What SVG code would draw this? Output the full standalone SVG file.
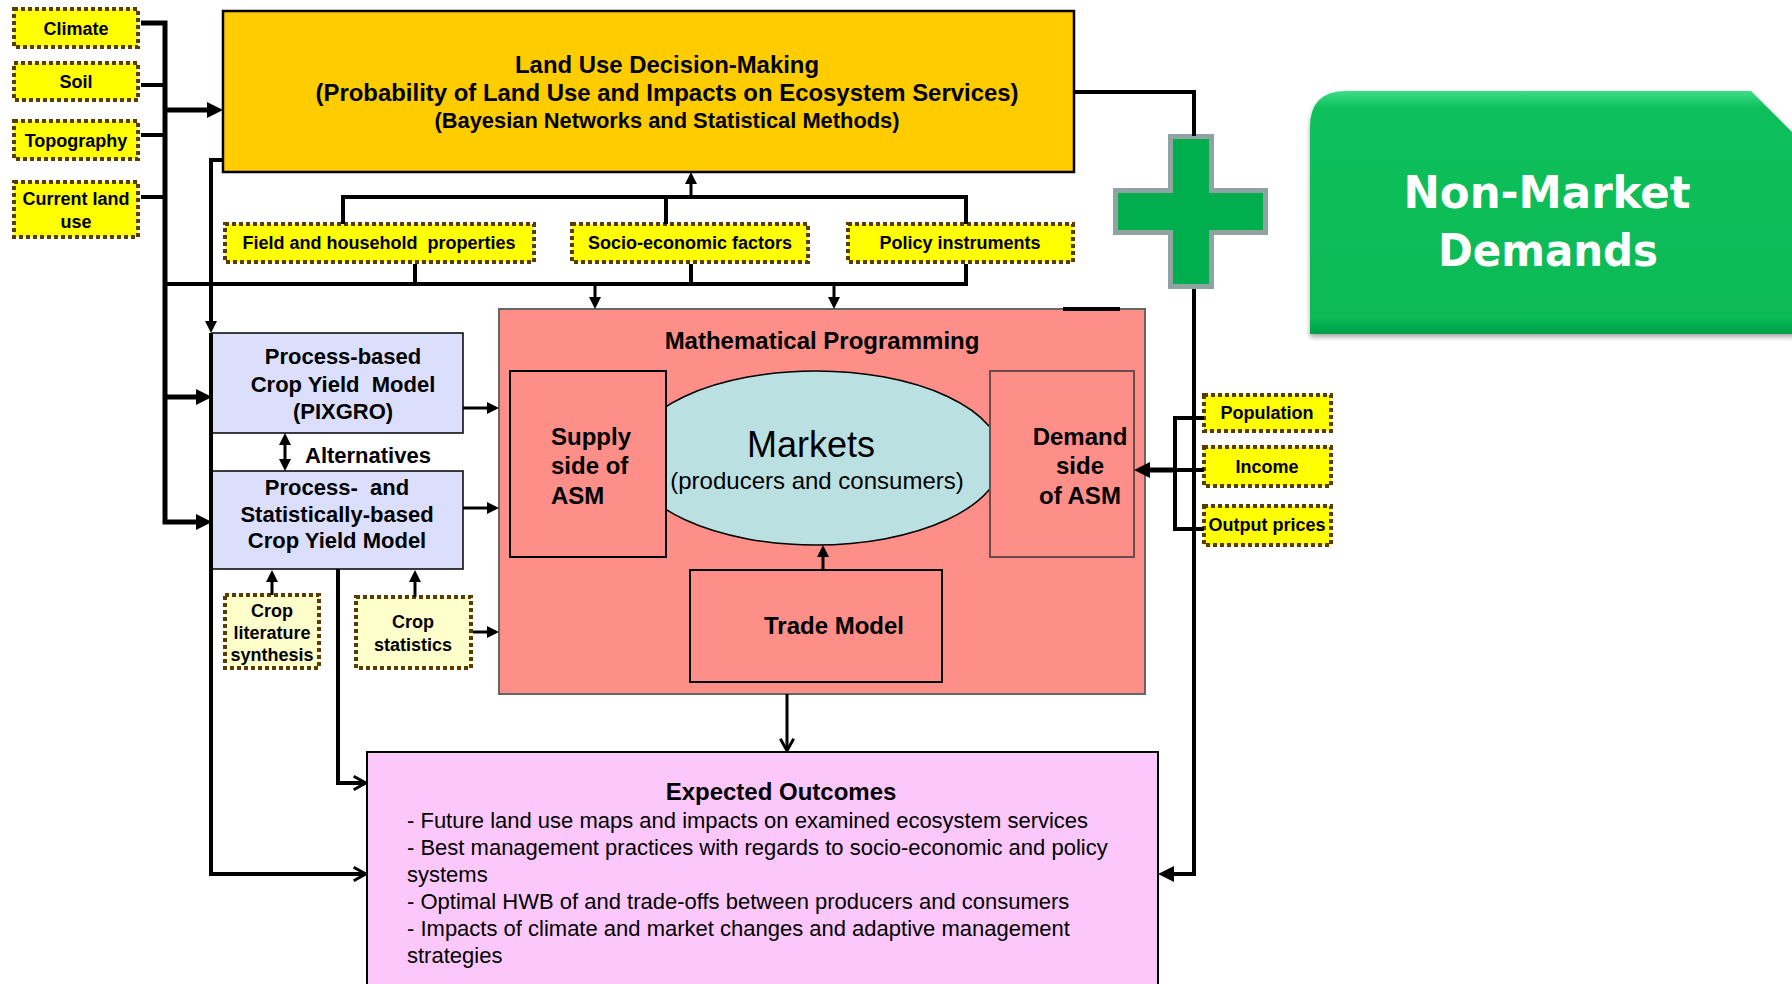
<svg xmlns="http://www.w3.org/2000/svg" width="1792" height="984" viewBox="0 0 1792 984">
<defs>
<style>
text{font-family:"Liberation Sans",Arial,sans-serif;fill:#000}
.b{font-weight:bold}
.m{text-anchor:middle}
.dot{fill:#FFFF00;stroke:#5A3C00;stroke-width:4;stroke-dasharray:4 3}
.dotl{fill:#FFFFCC;stroke:#5A3C00;stroke-width:4;stroke-dasharray:4 3}
.c{fill:none;stroke:#000;stroke-linejoin:miter}
.w5{stroke-width:5}
.w4{stroke-width:4}
.w3{stroke-width:3}
.sal{fill:#FD8F88}
</style>
<marker id="a" viewBox="0 0 10 10" refX="5" refY="5" markerWidth="12" markerHeight="12" markerUnits="userSpaceOnUse" orient="auto-start-reverse"><path d="M0,0 L10,5 L0,10 z" fill="#000"/></marker>
<marker id="aL" viewBox="0 0 10 10" refX="5" refY="5" markerWidth="16" markerHeight="16" markerUnits="userSpaceOnUse" orient="auto"><path d="M0,0 L10,5 L0,10 z" fill="#000"/></marker>
<marker id="chev" viewBox="0 0 12 12" refX="8" refY="6" markerWidth="16" markerHeight="16" markerUnits="userSpaceOnUse" orient="auto"><path d="M1,1 L10,6 L1,11" fill="none" stroke="#000" stroke-width="2.2"/></marker>
<linearGradient id="gg" x1="0" y1="0" x2="0" y2="1">
<stop offset="0" stop-color="#3FDC8A"/>
<stop offset="0.07" stop-color="#0BC05B"/>
<stop offset="0.93" stop-color="#07BA56"/>
<stop offset="1" stop-color="#05A049"/>
</linearGradient>
<filter id="sh" x="-5%" y="-5%" width="110%" height="115%"><feDropShadow dx="0" dy="3" stdDeviation="2.5" flood-color="#000" flood-opacity="0.35"/></filter>
</defs>

<g id="climate"><rect class="dot" x="14" y="9" width="124" height="38"/><text class="b m" x="76" y="35" font-size="18">Climate</text></g>
<g id="soil"><rect class="dot" x="14" y="63" width="124" height="37"/><text class="b m" x="76" y="88" font-size="18">Soil</text></g>
<g id="topography"><rect class="dot" x="14" y="121" width="124" height="38"/><text class="b m" x="76" y="147" font-size="18">Topography</text></g>
<g id="current-land-use"><rect class="dot" x="14" y="182" width="124" height="55"/><text class="b m" x="76" y="205" font-size="18">Current land</text><text class="b m" x="76" y="228" font-size="18">use</text></g>

<g id="ludm"><rect x="223" y="11" width="851" height="161" fill="#FFCC00" stroke="#000" stroke-width="2.5"/>
<text class="b m" x="667" y="73" font-size="24" textLength="304" lengthAdjust="spacingAndGlyphs">Land Use Decision-Making</text>
<text class="b m" x="667" y="101" font-size="24" textLength="703" lengthAdjust="spacingAndGlyphs">(Probability of Land Use and Impacts on Ecosystem Services)</text>
<text class="b m" x="667" y="128" font-size="22" textLength="465" lengthAdjust="spacingAndGlyphs">(Bayesian Networks and Statistical Methods)</text></g>

<g id="field-household"><rect class="dot" x="225" y="224" width="309" height="38"/><text class="b m" x="379" y="249" font-size="18" xml:space="preserve">Field and household  properties</text></g>
<g id="socio-economic"><rect class="dot" x="572" y="224" width="236" height="38"/><text class="b m" x="690" y="249" font-size="18">Socio-economic factors</text></g>
<g id="policy"><rect class="dot" x="848" y="224" width="225" height="38"/><text class="b m" x="960" y="249" font-size="18">Policy instruments</text></g>

<g id="pixgro"><rect x="212" y="333" width="251" height="100" fill="#DCDFFC" stroke="#000" stroke-width="1.5"/>
<text class="b m" x="343" y="364" font-size="22">Process-based</text>
<text class="b m" x="343" y="392" font-size="22" xml:space="preserve">Crop Yield  Model</text>
<text class="b m" x="343" y="419" font-size="22">(PIXGRO)</text></g>
<g id="alternatives"><text class="b" x="305" y="463" font-size="22">Alternatives</text></g>
<g id="process-stat"><rect x="212" y="471" width="251" height="98" fill="#DCDFFC" stroke="#000" stroke-width="1.5"/>
<text class="b m" x="337" y="495" font-size="22" xml:space="preserve">Process-  and</text>
<text class="b m" x="337" y="522" font-size="22">Statistically-based</text>
<text class="b m" x="337" y="548" font-size="22">Crop Yield Model</text></g>

<g id="crop-literature"><rect class="dotl" x="225" y="595" width="94" height="73"/>
<text class="b m" x="272" y="617" font-size="18">Crop</text><text class="b m" x="272" y="639" font-size="18">literature</text><text class="b m" x="272" y="661" font-size="18">synthesis</text></g>
<g id="crop-statistics"><rect class="dotl" x="356" y="597" width="115" height="71"/>
<text class="b m" x="413" y="628" font-size="18">Crop</text><text class="b m" x="413" y="651" font-size="18">statistics</text></g>

<g id="math-programming"><rect class="sal" x="499" y="309" width="646" height="385" stroke="#666" stroke-width="2"/>
<text class="b m" x="822" y="349" font-size="24">Mathematical Programming</text></g>
<g id="markets"><ellipse cx="816" cy="458" rx="186" ry="87" fill="#BBE0E2" stroke="#000" stroke-width="1.5"/>
<text class="m" x="811" y="457" font-size="36">Markets</text>
<text class="m" x="817" y="489" font-size="24">(producers and consumers)</text></g>
<g id="supply"><rect class="sal" x="510" y="371" width="156" height="186" stroke="#000" stroke-width="2"/>
<text class="b" x="551" y="445" font-size="24">Supply</text><text class="b" x="551" y="474" font-size="24">side of</text><text class="b" x="551" y="504" font-size="24">ASM</text></g>
<g id="demand"><rect class="sal" x="990" y="371" width="144" height="186" stroke="#6B4B4B" stroke-width="2"/>
<text class="b m" x="1080" y="445" font-size="24">Demand</text><text class="b m" x="1080" y="474" font-size="24">side</text><text class="b m" x="1080" y="504" font-size="24">of ASM</text></g>
<g id="trade-model"><rect class="sal" x="690" y="570" width="252" height="112" stroke="#000" stroke-width="2"/>
<text class="b m" x="834" y="634" font-size="24">Trade Model</text></g>

<g id="population"><rect class="dot" x="1204" y="395" width="127" height="36"/><text class="b m" x="1267" y="419" font-size="18">Population</text></g>
<g id="income"><rect class="dot" x="1204" y="447" width="127" height="39"/><text class="b m" x="1267" y="473" font-size="18">Income</text></g>
<g id="output-prices"><rect class="dot" x="1204" y="506" width="127" height="39"/><text class="b m" x="1267" y="531" font-size="18">Output prices</text></g>

<g id="expected-outcomes"><rect x="367" y="752" width="791" height="240" fill="#FCC8FC" stroke="#000" stroke-width="2"/>
<text class="b m" x="781" y="800" font-size="24">Expected Outcomes</text>
<text x="407" y="828" font-size="22">- Future land use maps and impacts on examined ecosystem services</text>
<text x="407" y="855" font-size="22">- Best management practices with regards to socio-economic and policy</text>
<text x="407" y="882" font-size="22">systems</text>
<text x="407" y="909" font-size="22">- Optimal HWB of and trade-offs between producers and consumers</text>
<text x="407" y="936" font-size="22">- Impacts of climate and market changes and adaptive management</text>
<text x="407" y="963" font-size="22">strategies</text></g>

<g id="plus"><polygon points="1170.5,136.5 1211.5,136.5 1211.5,190.5 1265.5,190.5 1265.5,232.5 1211.5,232.5 1211.5,286.5 1170.5,286.5 1170.5,232.5 1115.5,232.5 1115.5,190.5 1170.5,190.5" fill="#00AE4E" stroke="#8FA3A3" stroke-width="5"/></g>

<g id="non-market-demands"><path d="M1310,127 Q1310,91 1346,91 H1751 L1796,136 V334 H1310 Z" fill="url(#gg)" filter="url(#sh)"/>
<text class="b m" x="1547" y="208" font-size="44" style="font-family:'DejaVu Sans',sans-serif;fill:#fff" textLength="287" lengthAdjust="spacingAndGlyphs">Non-Market</text>
<text class="b m" x="1548" y="266" font-size="44" style="font-family:'DejaVu Sans',sans-serif;fill:#fff" textLength="220" lengthAdjust="spacingAndGlyphs">Demands</text></g>

<g id="connectors">
<path class="c w5" d="M141,23 H165 V522 H204" marker-end="url(#aL)"/>
<path class="c w5" d="M165,110 H215" marker-end="url(#aL)"/>
<path class="c w5" d="M165,397 H204" marker-end="url(#aL)"/>
<path class="c w4" d="M141,85 H165 M141,135 H165 M141,197 H165"/>
<path class="c w4" d="M165,284 H966 V264 M415,264 V284 M691,264 V284"/>
<path class="c w3" d="M595,284 V303" marker-end="url(#a)"/>
<path class="c w3" d="M834,284 V303" marker-end="url(#a)"/>
<path class="c w4" d="M343,224 V197 H966 V224 M666,224 V197"/>
<path class="c w3" d="M691,197 V178" marker-end="url(#a)"/>
<path class="c w4" d="M223,160 H211 V327" marker-end="url(#a)"/>
<path class="c w4" d="M211,333 V874 H363" marker-end="url(#chev)"/>
<path class="c w4" d="M338,569 V783 H363" marker-end="url(#chev)"/>
<path class="c w3" d="M787,694 V748" marker-end="url(#chev)"/>
<path class="c w3" d="M285,439 V465" marker-start="url(#a)" marker-end="url(#a)"/>
<path class="c w3" d="M463,408 H493" marker-end="url(#a)"/>
<path class="c w3" d="M463,508 H493" marker-end="url(#a)"/>
<path class="c w3" d="M473,632 H493" marker-end="url(#a)"/>
<path class="c w3" d="M272,595 V576" marker-end="url(#a)"/>
<path class="c w3" d="M415,597 V576" marker-end="url(#a)"/>
<path class="c w3" d="M823,570 V551" marker-end="url(#a)"/>
<path class="c w4" d="M1074,92 H1194 V136"/>
<path class="c w4" d="M1194,289 V874 H1166" marker-end="url(#aL)"/>
<path class="c w5" d="M1175,470 H1142" marker-end="url(#aL)"/>
<path class="c w4" d="M1204,418 H1175 V529 H1204 M1204,470 H1175"/>
<path class="c w4" d="M1063,309 H1120"/>
</g>
</svg>
